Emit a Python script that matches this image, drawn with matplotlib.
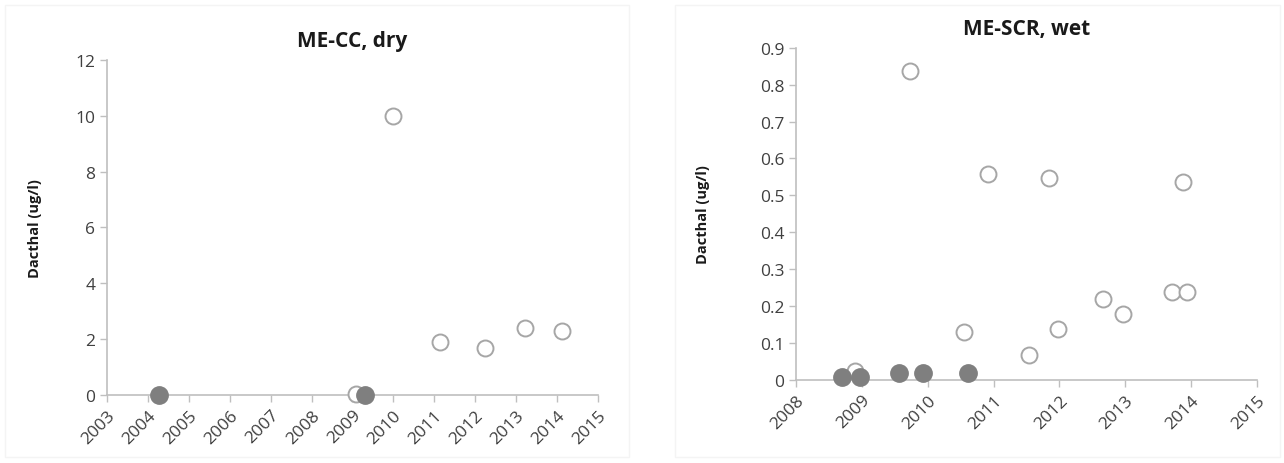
import matplotlib.pyplot as plt

plt.rcParams['font.family'] = ['Open Sans', 'DejaVu Sans']

# ME-CC, dry
cc_open_x = [2009.08, 2010.0, 2011.13, 2012.23, 2013.22, 2014.12]
cc_open_y = [0.05, 10.0, 1.89, 1.67, 2.39, 2.29]
cc_fill_x = [2004.27, 2009.30]
cc_fill_y = [0.0, 0.0]

# ME-SCR, wet
scr_open_x = [2008.89, 2009.73, 2010.55, 2010.92, 2011.54, 2011.84, 2011.98,
              2012.66, 2012.97, 2013.71, 2013.88, 2013.94]
scr_open_y = [0.023, 0.838, 0.13, 0.557, 0.068, 0.547, 0.138,
              0.22, 0.178, 0.238, 0.537, 0.238]
scr_fill_x = [2008.70, 2008.97, 2009.56, 2009.92, 2010.61]
scr_fill_y = [0.008, 0.008, 0.019, 0.019, 0.019]

cc_years = list(range(2003, 2016))
cc_yticks = [0, 2, 4, 6, 8, 10, 12]
scr_years = list(range(2008, 2016))
scr_yticks = [0, 0.1, 0.2, 0.3, 0.4, 0.5, 0.6, 0.7, 0.8, 0.9]
scr_ylabels = ['0', '0.1', '0.2', '0.3', '0.4', '0.5', '0.6', '0.7', '0.8', '0.9']

axis_col = '#bfbfbf'
text_col = '#404040'

fig = plt.figure(figsize=(12.84, 4.64), dpi=100)

# faint chart-area borders (drawn first, under everything)
for x0, w in [(0.004, 0.486), (0.526, 0.471)]:
    fig.patches.append(plt.Rectangle((x0, 0.012), w, 0.975, transform=fig.transFigure,
                                     fill=False, ec='#f4f4f4', lw=1, zorder=0))

ax1 = fig.add_axes([0.0833, 0.1466, 0.3824, 0.722])
ax2 = fig.add_axes([0.620, 0.179, 0.359, 0.716])


def style(ax, title, years, yticks, ylabels, ylim, labelpad):
    for s in ['top', 'right']:
        ax.spines[s].set_visible(False)
    for s in ['left', 'bottom']:
        ax.spines[s].set_color(axis_col)
        ax.spines[s].set_linewidth(1.2)
    ax.set_xlim(years[0], years[-1])
    ax.set_xticks(years)
    ax.set_xticklabels([str(y) for y in years], rotation=45, ha='right',
                       rotation_mode='anchor')
    ax.set_ylim(*ylim)
    ax.set_yticks(yticks)
    ax.set_yticklabels(ylabels)
    ax.tick_params(colors=axis_col, labelcolor=text_col, labelsize=12.5,
                   length=5, width=1)
    ax.set_ylabel('Dacthal (ug/l)', fontsize=10.5, fontweight='bold',
                  color='#1a1a1a', labelpad=labelpad)
    ax.set_title(title, fontsize=15, fontweight='bold', color='#1a1a1a', pad=10)


ax1.plot(cc_open_x, cc_open_y, 'o', ms=11.5, mfc='white', mec='#a6a6a6',
         mew=1.4, clip_on=False, zorder=3)
ax1.plot(cc_fill_x, cc_fill_y, 'o', ms=12.5, mfc='#7f7f7f', mec='#7f7f7f',
         clip_on=False, zorder=4)
style(ax1, 'ME-CC, dry', cc_years, cc_yticks, [str(v) for v in cc_yticks],
      (0, 12), 24)

ax2.plot(scr_open_x, scr_open_y, 'o', ms=11.5, mfc='white', mec='#a6a6a6',
         mew=1.4, clip_on=False, zorder=3)
ax2.plot(scr_fill_x, scr_fill_y, 'o', ms=12.5, mfc='#7f7f7f', mec='#7f7f7f',
         clip_on=False, zorder=4)
style(ax2, 'ME-SCR, wet', scr_years, scr_yticks, scr_ylabels, (0, 0.9), 36)

fig.savefig('out.png', dpi=100)
